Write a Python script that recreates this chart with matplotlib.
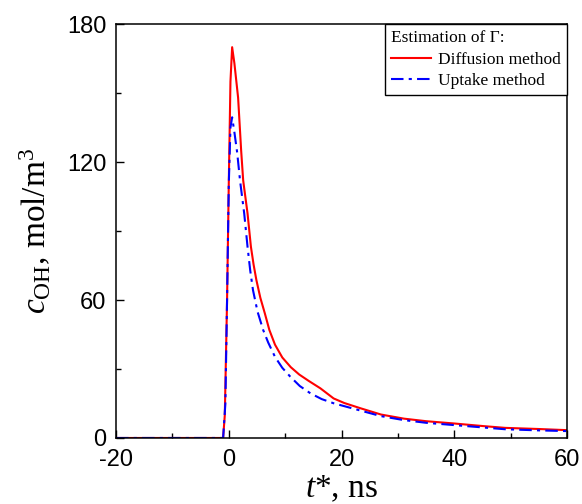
import numpy as np
import matplotlib
matplotlib.use('Agg')
import matplotlib.pyplot as plt
from matplotlib.ticker import MultipleLocator

plt.rcParams['mathtext.fontset'] = 'custom'
plt.rcParams['mathtext.rm'] = 'Liberation Serif'
plt.rcParams['mathtext.it'] = 'Liberation Serif:italic'
plt.rcParams['axes.unicode_minus'] = False

# Values (t* in ns, c_OH in mol/m^3)
t_diff = [-20, -10, -1.0, -0.7, -0.3, 0.0, 0.3, 0.6, 1.0, 1.66, 2.2, 2.56, 3.33, 3.93,
          4.4, 4.9, 5.6, 6.4, 7.2, 8.2, 9.5, 11.0, 12.5, 14.2, 16.25, 18.6, 20.5, 23.4,
          27.0, 31.1, 35.0, 40.0, 45.0, 49.0, 55.0, 60.0]
c_diff = [0, 0, 0, 10, 60, 110, 155, 170, 163, 148, 125, 112, 97.7, 83.2,
          75.5, 68.7, 61.0, 54.2, 47.0, 40.6, 35.0, 30.8, 27.6, 24.8, 21.6, 17.2, 15.2, 12.9,
          10.2, 8.4, 7.3, 6.3, 5.2, 4.4, 3.9, 3.4]

t_upt = [-20, -10, -1.0, -0.6, -0.3, 0.0, 0.3, 0.6, 1.0, 1.5, 2.0, 2.74, 3.33, 3.8,
         4.3, 5.1, 6.1, 7.0, 8.2, 9.5, 10.9, 12.6, 14.5, 16.5, 18.6, 23.4, 27.0, 31.0,
         35.0, 40.0, 45.0, 49.0, 55.0, 60.0]
c_upt = [0, 0, 0, 15, 60, 110, 135, 139.5, 133, 124, 112, 97.7, 83.2, 73.0,
         64.3, 55.0, 47.0, 41.5, 35.3, 30.5, 26.7, 22.6, 19.4, 16.9, 15.1, 11.9, 9.5, 7.8,
         6.6, 5.6, 4.6, 3.8, 3.3, 3.0]

fig = plt.figure(figsize=(5.82, 5.04), dpi=100)
ax = fig.add_axes([0.1993, 0.131, 0.775, 0.821])

ax.plot(t_diff, c_diff, color='#ff0000', lw=1.5, label='Diffusion method')
ax.plot(t_upt, c_upt, color='#0000ff', lw=1.5, ls=(0, (6, 2.5, 1.5, 2.5)), label='Uptake method')

ax.set_xlim(-20, 60)
ax.set_ylim(0, 180)
ax.xaxis.set_major_locator(MultipleLocator(20))
ax.xaxis.set_minor_locator(MultipleLocator(10))
ax.yaxis.set_major_locator(MultipleLocator(60))
ax.yaxis.set_minor_locator(MultipleLocator(30))
ax.tick_params(which='both', direction='in', top=False, right=False, width=1.0)
ax.tick_params(which='major', length=6, labelsize=17)
ax.tick_params(axis='x', which='major', pad=8)
ax.tick_params(axis='y', which='major', pad=7)
ax.tick_params(which='minor', length=3.5)
for lab in ax.get_xticklabels() + ax.get_yticklabels():
    lab.set_family('Liberation Sans')
for s in ax.spines.values():
    s.set_linewidth(1.1)

ax.set_xlabel(r'$\mathit{t}$*, ns', fontsize=24, family='Liberation Serif', labelpad=2)
ax.set_ylabel(r'$\mathit{c}_{\mathrm{OH}}$, mol/m$^3$', fontsize=24, family='Liberation Serif', labelpad=10)

leg = ax.legend(title='Estimation of \u0393:', loc='upper right', bbox_to_anchor=(1.0, 1.0),
                prop={'family': 'Liberation Serif', 'size': 12.5},
                title_fontproperties={'family': 'Liberation Serif', 'size': 12.5},
                frameon=True, fancybox=False, edgecolor='black', framealpha=1,
                handlelength=2.3, handletextpad=0.4, borderpad=0.35, labelspacing=0.3, borderaxespad=0)
leg._legend_box.align = 'left'
leg.get_frame().set_linewidth(1.0)

fig.savefig('out.png', dpi=100)
